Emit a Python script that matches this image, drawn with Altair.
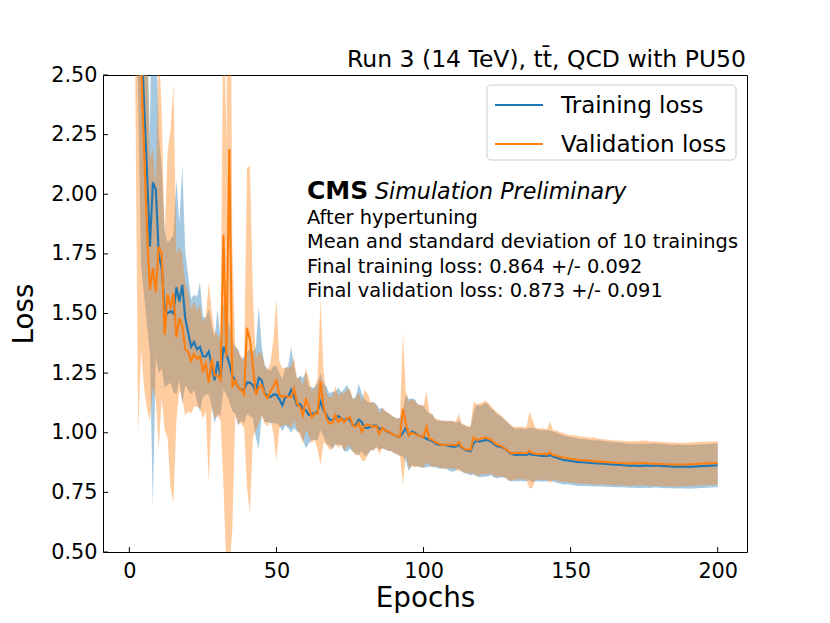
import altair as alt
import pandas as pd

epochs = list(range(1, 201))

train_mean = [
    5.0, 3.8, 3.1, 2.7, 2.38, 2.1, 1.78, 2.05, 2.02, 1.75,
    1.69, 1.52, 1.50, 1.51, 1.50, 1.61, 1.55, 1.62, 1.48, 1.42,
    1.36, 1.38, 1.35, 1.36, 1.32, 1.32, 1.34, 1.28, 1.22, 1.30,
    1.23, 1.36, 1.33, 1.29, 1.24, 1.22, 1.19, 1.18, 1.18, 1.21,
    1.21, 1.20, 1.17, 1.23, 1.22, 1.165, 1.155, 1.15, 1.16, 1.16,
    1.14, 1.115, 1.15, 1.15, 1.18, 1.15, 1.115, 1.12, 1.10, 1.095,
    1.075, 1.08, 1.08, 1.09, 1.13, 1.095, 1.075, 1.055, 1.053, 1.06,
    1.07, 1.06, 1.053, 1.06, 1.053, 1.03, 1.033, 1.055, 1.045, 1.02,
    1.02, 1.025, 1.03, 1.03, 1.015, 1.02, 1.01, 1.003, 0.998, 0.99,
    0.985, 0.983, 1.0, 1.02, 0.99, 1.005, 1.0, 0.99, 0.985, 0.983,
    0.975, 0.97, 0.965, 0.956, 0.95, 0.95, 0.95, 0.947, 0.944, 0.942,
    0.942, 0.95, 0.937, 0.93, 0.925, 0.922, 0.955, 0.968, 0.963, 0.965,
    0.97, 0.968, 0.962, 0.952, 0.943, 0.942, 0.937, 0.93, 0.918, 0.912,
    0.907, 0.907, 0.909, 0.907, 0.907, 0.912, 0.907, 0.907, 0.905, 0.903,
    0.904, 0.903, 0.906, 0.9, 0.896, 0.892, 0.888, 0.885, 0.884, 0.882,
    0.88, 0.878, 0.876, 0.876, 0.875, 0.874, 0.873, 0.872, 0.871, 0.871,
    0.87, 0.869, 0.868, 0.867, 0.866, 0.866, 0.865, 0.864, 0.863, 0.862,
    0.862, 0.862, 0.861, 0.861, 0.862, 0.862, 0.861, 0.862, 0.863, 0.862,
    0.861, 0.86, 0.86, 0.859, 0.858, 0.858, 0.859, 0.858, 0.858, 0.857,
    0.858, 0.858, 0.859, 0.86, 0.86, 0.861, 0.862, 0.862, 0.863, 0.864,
]

train_std = [
    1.0, 0.9, 0.7, 1.0, 0.8, 0.65, 0.45, 1.36, 0.7, 0.5,
    0.42, 0.33, 0.3, 0.3, 0.33, 0.45, 0.33, 0.5, 0.28, 0.24,
    0.2, 0.2, 0.22, 0.27, 0.17, 0.16, 0.18, 0.17, 0.18, 0.22,
    0.16, 0.18, 0.17, 0.16, 0.15, 0.14, 0.16, 0.13, 0.14, 0.13,
    0.14, 0.14, 0.19, 0.3, 0.14, 0.12, 0.11, 0.11, 0.12, 0.12,
    0.11, 0.11, 0.12, 0.13, 0.18, 0.13, 0.11, 0.12, 0.13, 0.16,
    0.12, 0.11, 0.11, 0.12, 0.12, 0.11, 0.12, 0.11, 0.12, 0.11,
    0.12, 0.11, 0.13, 0.14, 0.12, 0.11, 0.12, 0.15, 0.12, 0.12,
    0.11, 0.1, 0.1, 0.09, 0.085, 0.085, 0.08, 0.08, 0.075, 0.075,
    0.075, 0.08, 0.1, 0.14, 0.15, 0.14, 0.14, 0.13, 0.13, 0.13,
    0.12, 0.11, 0.11, 0.1, 0.1, 0.1, 0.1, 0.1, 0.105, 0.105,
    0.1, 0.1, 0.1, 0.1, 0.098, 0.1, 0.13, 0.15, 0.15, 0.15,
    0.155, 0.15, 0.14, 0.14, 0.135, 0.13, 0.125, 0.12, 0.12, 0.115,
    0.11, 0.11, 0.11, 0.11, 0.11, 0.11, 0.115, 0.11, 0.108, 0.108,
    0.107, 0.107, 0.105, 0.105, 0.105, 0.104, 0.103, 0.102, 0.1, 0.1,
    0.1, 0.1, 0.099, 0.099, 0.098, 0.098, 0.097, 0.097, 0.096, 0.096,
    0.095, 0.095, 0.095, 0.094, 0.094, 0.094, 0.093, 0.093, 0.093, 0.093,
    0.093, 0.093, 0.093, 0.093, 0.093, 0.093, 0.093, 0.093, 0.093, 0.093,
    0.093, 0.093, 0.092, 0.092, 0.092, 0.092, 0.092, 0.092, 0.092, 0.092,
    0.092, 0.092, 0.092, 0.092, 0.092, 0.092, 0.092, 0.092, 0.092, 0.092,
]

val_mean = [
    4.8, 3.6, 3.0, 2.55, 2.19, 1.85, 1.6, 1.69, 1.59, 1.78,
    1.75, 1.41, 1.58, 1.52, 1.585, 1.40, 1.48, 1.445, 1.35, 1.34,
    1.30, 1.33, 1.31, 1.32, 1.26, 1.29, 1.21, 1.31, 1.24, 1.24,
    1.22, 1.83, 1.32, 2.19, 1.19, 1.22, 1.19, 1.18, 1.16, 1.44,
    1.39, 1.28, 1.16, 1.19, 1.20, 1.16, 1.145, 1.175, 1.195, 1.22,
    1.16, 1.15, 1.155, 1.15, 1.15, 1.185, 1.12, 1.11, 1.075, 1.14,
    1.11, 1.065, 1.08, 1.08, 1.215, 1.11, 1.06, 1.04, 1.04, 1.075,
    1.045, 1.06, 1.045, 1.06, 1.065, 1.03, 1.025, 1.04, 1.005, 1.03,
    1.035, 1.03, 1.025, 1.028, 0.995, 1.02, 1.01, 1.005, 0.998, 0.99,
    0.985, 0.983, 1.10, 1.04, 0.99, 1.0, 0.995, 0.99, 0.985, 0.983,
    1.025, 0.975, 0.97, 0.96, 0.956, 0.95, 0.95, 0.95, 0.95, 0.95,
    0.947, 0.96, 0.94, 0.932, 0.93, 0.928, 0.98, 0.97, 0.972, 0.978,
    0.98, 0.975, 0.97, 0.958, 0.95, 0.947, 0.94, 0.93, 0.921, 0.914,
    0.914, 0.915, 0.916, 0.914, 0.914, 0.925, 0.914, 0.912, 0.91, 0.911,
    0.912, 0.908, 0.918, 0.907, 0.905, 0.9, 0.897, 0.895, 0.893, 0.89,
    0.889, 0.888, 0.886, 0.885, 0.884, 0.883, 0.882, 0.881, 0.88, 0.879,
    0.878, 0.877, 0.876, 0.875, 0.874, 0.874, 0.873, 0.872, 0.872, 0.871,
    0.871, 0.872, 0.872, 0.873, 0.873, 0.872, 0.871, 0.87, 0.87, 0.869,
    0.869, 0.868, 0.868, 0.867, 0.867, 0.867, 0.866, 0.867, 0.867, 0.868,
    0.868, 0.869, 0.87, 0.87, 0.871, 0.871, 0.872, 0.872, 0.873, 0.873,
]

val_std = [
    1.0, 1.1, 2.0, 1.2, 1.0, 0.75, 0.55, 0.5, 0.45, 0.85,
    0.6, 0.4, 0.6, 0.75, 0.88, 0.35, 0.3, 0.3, 0.28, 0.25,
    0.22, 0.22, 0.2, 0.22, 0.2, 0.2, 0.42, 0.2, 0.18, 0.17,
    0.17, 1.05, 0.9, 1.75, 0.6, 0.15, 0.15, 0.14, 0.14, 0.67,
    0.73, 0.3, 0.15, 0.15, 0.13, 0.12, 0.12, 0.12, 0.2, 0.34,
    0.14, 0.12, 0.12, 0.12, 0.13, 0.13, 0.11, 0.12, 0.12, 0.13,
    0.12, 0.11, 0.11, 0.15, 0.35, 0.15, 0.11, 0.11, 0.11, 0.12,
    0.11, 0.11, 0.12, 0.12, 0.12, 0.11, 0.12, 0.13, 0.12, 0.15,
    0.13, 0.1, 0.1, 0.09, 0.085, 0.085, 0.08, 0.08, 0.075, 0.075,
    0.075, 0.08, 0.32, 0.13, 0.14, 0.14, 0.14, 0.13, 0.13, 0.13,
    0.15, 0.11, 0.11, 0.1, 0.1, 0.1, 0.1, 0.1, 0.1, 0.1,
    0.1, 0.12, 0.1, 0.1, 0.098, 0.1, 0.15, 0.15, 0.15, 0.15,
    0.155, 0.15, 0.14, 0.14, 0.135, 0.13, 0.125, 0.12, 0.12, 0.115,
    0.11, 0.11, 0.11, 0.11, 0.11, 0.16, 0.145, 0.11, 0.108, 0.108,
    0.107, 0.107, 0.13, 0.105, 0.105, 0.104, 0.103, 0.102, 0.1, 0.1,
    0.1, 0.1, 0.099, 0.099, 0.098, 0.098, 0.097, 0.1, 0.096, 0.096,
    0.095, 0.095, 0.095, 0.094, 0.094, 0.094, 0.093, 0.093, 0.093, 0.093,
    0.093, 0.093, 0.093, 0.093, 0.095, 0.094, 0.093, 0.093, 0.093, 0.093,
    0.092, 0.092, 0.092, 0.092, 0.092, 0.092, 0.091, 0.091, 0.091, 0.091,
    0.091, 0.091, 0.091, 0.091, 0.091, 0.091, 0.091, 0.091, 0.091, 0.091,
]

series_names = ["Training loss", "Validation loss"]
series_colors = ["#1f77b4", "#ff7f0e"]
x_ticks = [0, 50, 100, 150, 200]
y_ticks = [0.5, 0.75, 1.0, 1.25, 1.5, 1.75, 2.0, 2.25, 2.5]

title_text = "Run 3 (14 TeV), t\u0074\u0304, QCD with PU50"
cms_text = "CMS"
sim_text = "Simulation Preliminary"
info_lines = [
    "After hypertuning",
    "Mean and standard deviation of 10 trainings",
    "Final training loss: 0.864 +/- 0.092",
    "Final validation loss: 0.873 +/- 0.091",
]

# ---------------------------------------------------------------- tables
rows = []
for name, means, stds in zip(series_names, [train_mean, val_mean], [train_std, val_std]):
    for e, m, s in zip(epochs, means, stds):
        rows.append({"epoch": e, "series": name, "mean": m, "lo": m - s, "hi": m + s})
df = pd.DataFrame(rows)

W, H = 644, 477
FONT = "DejaVu Sans"

xscale = alt.Scale(domain=[-8.95, 209.95], nice=False, zero=False)
yscale = alt.Scale(domain=[0.5, 2.5], nice=False, zero=False)

xaxis = alt.Axis(values=x_ticks, format="d", ticks=False, grid=False, domain=False,
                 labelFontSize=20.8, labelPadding=9, labelColor="black", labelFont=FONT,
                 title="Epochs", titleFontSize=27.8, titleFontWeight="normal",
                 titleColor="black", titleFont=FONT, titlePadding=4)
yaxis = alt.Axis(values=y_ticks, format=".2f", ticks=False, grid=False, domain=False,
                 labelFontSize=20.8, labelPadding=6, labelColor="black", labelFont=FONT,
                 title="Loss", titleFontSize=27.8, titleFontWeight="normal",
                 titleColor="black", titleFont=FONT, titlePadding=12)

X = lambda f: alt.X(f, scale=xscale, axis=xaxis)
Y = lambda f: alt.Y(f, scale=yscale, axis=yaxis)

layers = []
for name, col in zip(series_names, series_colors):
    layers.append(
        alt.Chart(df).transform_filter(alt.datum.series == name)
        .mark_area(color=col, opacity=0.4, clip=True)
        .encode(x=X("epoch:Q"), y=Y("lo:Q"), y2="hi:Q")
    )

lines = alt.Chart(df).mark_line(strokeWidth=2.1, clip=True).encode(
    x=X("epoch:Q"),
    y=Y("mean:Q"),
    color=alt.Color("series:N",
                    scale=alt.Scale(domain=series_names, range=series_colors),
                    legend=None),
)
layers.append(lines)

# inward ticks
ytick_df = pd.DataFrame({"v": y_ticks})
xtick_df = pd.DataFrame({"v": x_ticks})
layers.append(
    alt.Chart(ytick_df).mark_rule(color="black", strokeWidth=1)
    .encode(y=Y("v:Q"), x=alt.value(0), x2=alt.value(5))
)
layers.append(
    alt.Chart(xtick_df).mark_rule(color="black", strokeWidth=1)
    .encode(x=X("v:Q"), y=alt.value(H), y2=alt.value(H - 5))
)

one = pd.DataFrame({"k": [0]})

# legend (matplotlib style box)
layers.append(
    alt.Chart(one).mark_rect(fill="white", fillOpacity=0.8, stroke="#cccccc",
                             strokeWidth=1, cornerRadius=4)
    .encode(x=alt.value(384), x2=alt.value(633), y=alt.value(10), y2=alt.value(85))
)
for i, (name, col) in enumerate(zip(series_names, series_colors)):
    yy = 30 + i * 39
    layers.append(
        alt.Chart(one).mark_rule(color=col, strokeWidth=2.1)
        .encode(x=alt.value(392), x2=alt.value(440), y=alt.value(yy))
    )
    layers.append(
        alt.Chart(pd.DataFrame({"t": [name]})).mark_text(
            align="left", baseline="middle", fontSize=23, font=FONT, color="black")
        .encode(text="t:N", x=alt.value(458), y=alt.value(yy + 1))
    )


def label(text, x, y, size, align="left", weight="normal", style="normal"):
    return alt.Chart(pd.DataFrame({"t": [text]})).mark_text(
        align=align, baseline="alphabetic", fontSize=size, font=FONT,
        fontWeight=weight, fontStyle=style, color="black"
    ).encode(text="t:N", x=alt.value(x), y=alt.value(y))


layers.append(label(title_text, W - 1, -8, 23.5, align="right"))
layers.append(label(cms_text, 204, 124, 25, weight="bold"))
layers.append(label(sim_text, 272, 124, 22.2, style="italic"))
for i, line in enumerate(info_lines):
    layers.append(label(line, 204, 149 + i * 24.3, 19.4))

chart = alt.layer(*layers).properties(
    width=W, height=H,
    autosize=alt.AutoSizeParams(type="none"),
    padding={"left": 95, "top": 67, "right": 75, "bottom": 63},
).configure(font=FONT).configure_view(stroke="black", strokeWidth=1)

chart.save("out.html", embed_options={"renderer": "svg", "actions": False})
